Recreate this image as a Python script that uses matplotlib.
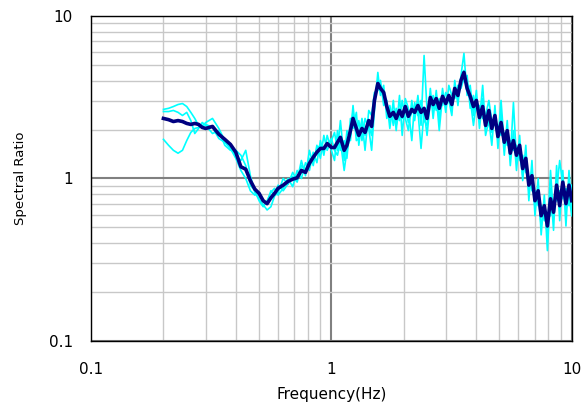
import matplotlib
matplotlib.use("Agg")
import matplotlib.pyplot as plt
from matplotlib.ticker import FixedLocator, NullFormatter

# frequency axis shared by all curves (Hz)
freq = [0.20, 0.21, 0.22, 0.23, 0.24, 0.25, 0.26, 0.27, 0.28, 0.29, 0.30,
        0.32, 0.34, 0.36, 0.38, 0.40, 0.42, 0.44, 0.46, 0.48, 0.50, 0.52, 0.54, 0.56, 0.58, 0.60,
        0.63, 0.66, 0.69, 0.72, 0.75, 0.78, 0.81, 0.84, 0.87, 0.90, 0.93, 0.96, 1.00,
        1.03, 1.06, 1.09, 1.13, 1.16, 1.20, 1.23, 1.27, 1.30, 1.34,
        1.38, 1.43, 1.47, 1.51, 1.56, 1.60, 1.65, 1.70, 1.75, 1.81,
        1.86, 1.92, 1.97, 2.03, 2.09, 2.16, 2.22, 2.29, 2.36, 2.43,
        2.50, 2.58, 2.65, 2.73, 2.81, 2.90, 2.99, 3.08, 3.17, 3.26,
        3.36, 3.46, 3.56, 3.67, 3.78, 3.90, 4.01, 4.13, 4.26, 4.38,
        4.52, 4.65, 4.79, 4.93, 5.08, 5.24, 5.39, 5.55, 5.72, 5.89,
        6.07, 6.25, 6.44, 6.63, 6.83, 7.03, 7.25, 7.46, 7.69, 7.92,
        8.16, 8.40, 8.65, 8.91, 9.18, 9.46, 9.74, 10.0]

# mean spectral ratio (dark line)
ratio_mean = [2.34, 2.30, 2.24, 2.27, 2.24, 2.18, 2.15, 2.18, 2.15, 2.06, 2.03,
              2.09, 1.87, 1.74, 1.62, 1.45, 1.18, 1.14, 0.97, 0.86, 0.81, 0.73, 0.70, 0.76, 0.81, 0.87,
              0.91, 0.96, 0.99, 1.01, 1.12, 1.09, 1.24, 1.35, 1.45, 1.53, 1.53, 1.64, 1.55,
              1.55, 1.67, 1.79, 1.49, 1.60, 1.97, 2.34, 2.03, 1.84, 2.03,
              1.92, 2.27, 2.09, 3.02, 3.84, 3.58, 3.38, 2.77, 2.41, 2.55,
              2.34, 2.62, 2.41, 2.77, 2.41, 2.66, 2.55, 2.81, 2.55, 2.70,
              2.34, 3.15, 2.85, 3.10, 2.70, 3.20, 2.89, 3.24, 2.85, 3.58,
              3.24, 4.01, 4.49, 3.58, 3.20, 2.77, 3.02, 2.37, 2.77, 2.12,
              2.62, 2.03, 2.44, 1.81, 2.21, 1.67, 1.97, 1.43, 1.71, 1.39,
              1.60, 1.15, 1.33, 0.91, 1.04, 0.73, 0.84, 0.59, 0.68, 0.51,
              0.75, 0.62, 0.91, 0.68, 0.95, 0.70, 0.91, 0.73]

# individual records (light lines)
ratio_rec1 = [2.66, 2.70, 2.77, 2.85, 2.89, 2.77, 2.55, 2.34, 2.12, 2.09, 2.21,
              2.34, 2.03, 1.71, 1.53, 1.39, 1.29, 1.49, 1.04, 0.82, 0.75, 0.69, 0.64, 0.67, 0.78, 0.82,
              1.00, 0.92, 1.09, 0.97, 1.29, 1.04, 1.49, 1.20, 1.60, 1.33, 1.84, 1.49, 1.71,
              1.92, 1.49, 2.27, 1.29, 1.97, 1.71, 2.62, 1.84, 2.27, 1.71,
              2.34, 2.03, 1.49, 2.62, 4.49, 3.24, 3.74, 2.34, 2.81, 2.12,
              2.70, 2.27, 3.02, 2.34, 1.97, 3.02, 2.27, 3.24, 2.12, 5.71,
              2.62, 2.81, 3.24, 2.62, 3.10, 2.81, 3.38, 3.02, 2.44, 4.01,
              2.81, 4.30, 5.88, 3.24, 3.74, 2.44, 3.48, 2.03, 3.10, 1.84,
              2.27, 1.60, 2.81, 1.53, 2.55, 1.39, 2.27, 1.20, 1.97, 1.12,
              1.84, 0.97, 1.60, 0.73, 1.29, 0.59, 1.00, 0.45, 0.79, 0.36,
              0.87, 0.48, 1.20, 0.55, 1.12, 0.51, 1.12, 0.64]

ratio_rec2 = [2.58, 2.58, 2.62, 2.55, 2.44, 2.55, 2.27, 1.89, 2.03, 2.21, 2.12,
              1.89, 1.97, 1.60, 1.49, 1.49, 1.39, 1.20, 0.91, 0.84, 0.73, 0.67, 0.73, 0.82, 0.87, 0.79,
              0.87, 1.00, 0.89, 1.12, 1.00, 1.25, 1.12, 1.45, 1.25, 1.71, 1.39, 1.84, 1.49,
              1.29, 1.97, 1.49, 1.71, 1.33, 2.34, 2.03, 2.55, 1.60, 2.27,
              1.49, 2.62, 2.44, 3.38, 3.48, 4.01, 2.81, 3.02, 2.03, 3.02,
              1.97, 3.24, 1.84, 3.10, 2.70, 1.71, 2.93, 2.44, 3.02, 2.27,
              2.12, 3.58, 2.34, 3.48, 2.27, 3.58, 2.55, 3.74, 3.24, 3.10,
              3.74, 3.58, 4.13, 4.30, 2.70, 3.24, 2.62, 2.81, 2.34, 2.44,
              3.02, 2.27, 2.12, 2.12, 1.84, 1.92, 1.60, 1.71, 1.49, 1.60,
              1.29, 1.39, 1.09, 1.04, 0.84, 0.84, 0.68, 0.68, 0.55, 0.59,
              0.59, 0.73, 0.73, 0.84, 0.75, 0.87, 0.68, 0.91]

ratio_rec3 = [1.74, 1.60, 1.49, 1.43, 1.49, 1.71, 1.92, 2.03, 2.06, 2.12, 2.15,
              2.06, 1.76, 1.67, 1.53, 1.33, 1.12, 1.00, 0.84, 0.79, 0.82, 0.73, 0.71, 0.84, 0.79, 0.91,
              0.84, 0.93, 1.03, 0.95, 1.20, 1.12, 1.33, 1.29, 1.53, 1.60, 1.49, 1.60, 1.76,
              1.49, 1.39, 1.71, 1.12, 1.49, 1.84, 2.81, 1.71, 1.76, 2.34,
              1.84, 2.12, 1.84, 3.02, 4.01, 3.74, 3.24, 2.62, 2.27, 2.44,
              2.12, 2.55, 2.34, 2.70, 2.21, 2.55, 2.81, 2.62, 1.53, 2.62,
              1.84, 3.02, 2.70, 3.24, 1.97, 3.24, 2.81, 3.10, 2.70, 3.48,
              3.10, 4.13, 4.62, 3.74, 3.10, 2.12, 2.93, 2.27, 3.74, 2.03,
              2.55, 1.92, 2.34, 1.71, 3.02, 1.60, 1.84, 1.33, 2.93, 1.29,
              1.49, 1.04, 1.29, 0.84, 1.00, 0.68, 0.79, 0.51, 0.64, 0.45,
              1.12, 0.57, 0.84, 1.29, 0.91, 0.64, 0.79, 0.59]

x_ticks = [0.1, 1, 10]
x_tick_labels = ["0.1", "1", "10"]
y_ticks = [0.1, 1, 10]
y_tick_labels = ["0.1", "1", "10"]


fig = plt.figure(figsize=(5.84, 4.07), dpi=100)
ax = fig.add_axes([0.156, 0.162, 0.823, 0.799])

for rec in (ratio_rec1, ratio_rec2, ratio_rec3):
    ax.plot(freq, rec, color="#00ffff", lw=1.2, zorder=3)
ax.plot(freq, ratio_mean, color="#000080", lw=2.6, zorder=4)

ax.set_xscale("log")
ax.set_yscale("log")
ax.set_xlim(0.1, 10)
ax.set_ylim(0.1, 10)

# light minor grid, darker lines at the decades
minor = [m * d for d in (0.1, 1) for m in range(2, 10)]
ax.xaxis.set_minor_locator(FixedLocator(minor))
ax.yaxis.set_minor_locator(FixedLocator(minor))
ax.xaxis.set_minor_formatter(NullFormatter())
ax.yaxis.set_minor_formatter(NullFormatter())
ax.grid(which="minor", color="#c8c8c8", lw=1.0, zorder=1)
ax.grid(which="major", color="#808080", lw=1.5, zorder=1)
ax.set_axisbelow(True)

ax.set_xticks(x_ticks)
ax.set_xticklabels(x_tick_labels)
ax.set_yticks(y_ticks)
ax.set_yticklabels(y_tick_labels)
ax.tick_params(which="both", length=0)
ax.tick_params(axis="x", pad=15, labelsize=11)
ax.tick_params(axis="y", pad=13, labelsize=11)

for sp in ax.spines.values():
    sp.set_color("black")
    sp.set_linewidth(1.0)

ax.set_xlabel("Frequency(Hz)", fontsize=11, labelpad=7)
ax.set_ylabel("Spectral Ratio", fontsize=9.5, labelpad=16)

fig.savefig("out.png", dpi=100)
